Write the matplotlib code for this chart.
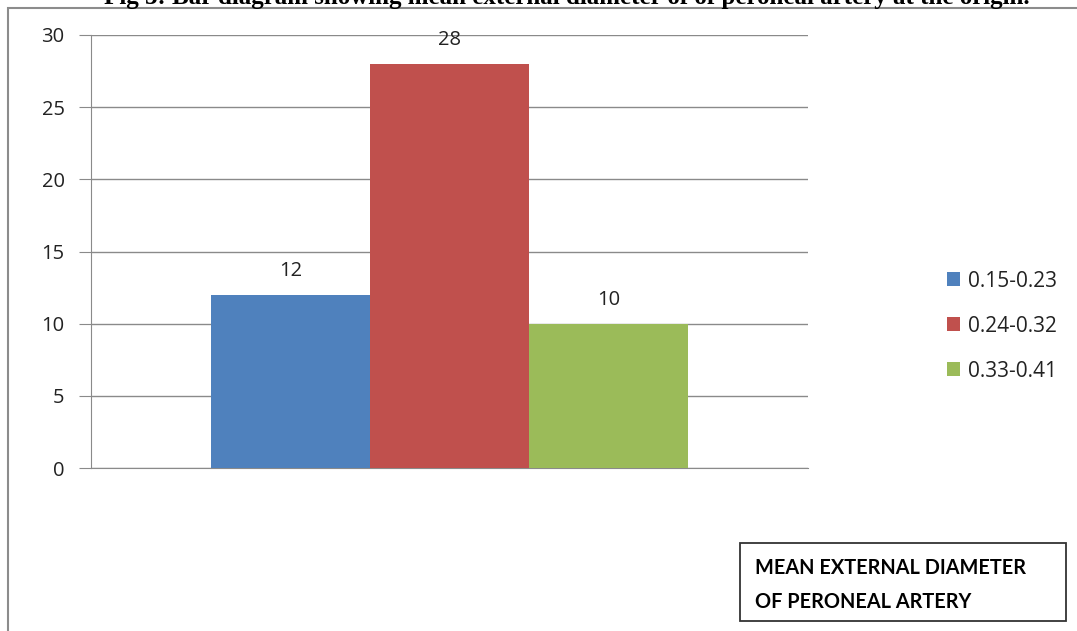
import matplotlib
matplotlib.use("Agg")
import matplotlib.pyplot as plt
from matplotlib.patches import Rectangle

# Data
categories = ["0.15-0.23", "0.24-0.32", "0.33-0.41"]
counts = [12, 28, 10]
colors = ["#4F81BD", "#C0504D", "#9BBB59"]
y_ticks = [0, 5, 10, 15, 20, 25, 30]
title = "Fig 3: Bar diagram showing mean external diameter of of peroneal artery at the origin."
box_lines = ["MEAN EXTERNAL DIAMETER", "OF PERONEAL ARTERY"]

W, H = 1077, 631
fig = plt.figure(figsize=(W / 100, H / 100), dpi=100)
fig.patch.set_facecolor("white")

def fx(px):
    return px / W

def fy(py):
    return 1 - py / H

# Outer chart frame
fig.patches.append(Rectangle((fx(8), fy(640)), fx(1090) - fx(8), fy(8) - fy(640),
                             transform=fig.transFigure, fill=False,
                             edgecolor="#8c8c8c", linewidth=1.5))

# Caption above the chart
fig.text(fx(567), fy(4), title, ha="center", va="baseline",
         fontsize=18, fontweight="bold", family="Liberation Serif")

ax = fig.add_axes([fx(91), fy(468), fx(808) - fx(91), fy(35) - fy(468)])
bar_w = 0.222
offsets = [-bar_w, 0, bar_w]
for off, val, col, lab in zip(offsets, counts, colors, categories):
    ax.bar(off, val, width=bar_w, color=col, label=lab, zorder=3)
    ax.text(off, val + 0.95, str(val), ha="center", va="bottom",
            fontsize=14.5, family="Open Sans", color="#222222", zorder=4)

ax.set_xlim(-0.5, 0.5)
ax.set_ylim(0, 30)
ax.set_yticks(y_ticks)
ax.set_yticklabels([str(t) for t in y_ticks], fontsize=14.5, family="Open Sans",
                   color="#222222")
ax.set_xticks([])
ax.grid(axis="y", color="#8a8a8a", linewidth=1, zorder=0)
for side in ["top", "right"]:
    ax.spines[side].set_visible(False)
ax.spines["left"].set_color("#8a8a8a")
ax.spines["bottom"].set_color("#8a8a8a")
ax.tick_params(axis="y", length=9, color="#8a8a8a", pad=10)
ax.set_facecolor("white")

leg = fig.legend(loc="upper left", bbox_to_anchor=(fx(928), fy(252)),
                 frameon=False, prop={"family": "Open Sans", "size": 15},
                 handlelength=0.65, handleheight=0.65, handletextpad=0.35,
                 labelspacing=1.15, labelcolor="#222222")

# Boxed axis description
fig.patches.append(Rectangle((fx(740), fy(621)), fx(1066) - fx(740), fy(543) - fy(621),
                             transform=fig.transFigure, fill=False,
                             edgecolor="#333333", linewidth=1.3))
fig.text(fx(755), fy(568), box_lines[0], ha="left", va="center",
         fontsize=14.3, fontweight="bold", family="Lato")
fig.text(fx(755), fy(602), box_lines[1], ha="left", va="center",
         fontsize=14.3, fontweight="bold", family="Lato")

fig.savefig("out.png", dpi=100)
